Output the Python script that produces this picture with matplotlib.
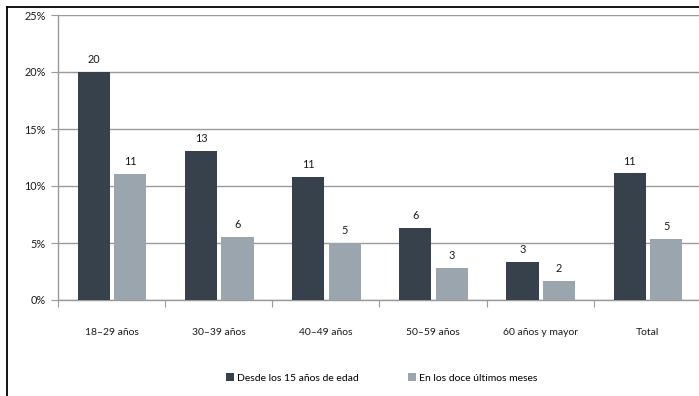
import numpy as np
import matplotlib.pyplot as plt
from matplotlib.patches import Patch
from matplotlib.lines import Line2D

# Datos por grupo de edad (% de mujeres)
categorias = ["18–29 años", "30–39 años", "40–49 años", "50–59 años", "60 años y mayor", "Total"]
desde_15 = [20.0, 13.1, 10.8, 6.3, 3.3, 11.1]
ultimos_12 = [11.05, 5.5, 5.0, 2.8, 1.65, 5.35]
serie_nombres = ["Desde los 15 años de edad", "En los doce últimos meses"]
y_ticks = [0, 5, 10, 15, 20, 25]

color_oscuro = "#36414b"
color_claro = "#9ba5ae"
color_rejilla = "#9a9a9a"
color_texto = "#1a1a1a"

plt.rcParams['font.family'] = ['Lato', 'DejaVu Sans']

fig = plt.figure(figsize=(6.99, 3.96), dpi=100)
ax = fig.add_axes([58 / 699, 96 / 396, 643 / 699, 285 / 396])

x = np.arange(len(categorias))
ancho = 0.3
b1 = ax.bar(x - 0.165, desde_15, ancho, color=color_oscuro, zorder=3)
b2 = ax.bar(x + 0.175, ultimos_12, ancho, color=color_claro, zorder=3)

for barras, vals in ((b1, desde_15), (b2, ultimos_12)):
    for b, v in zip(barras, vals):
        ax.annotate(f"{round(v):d}", (b.get_x() + b.get_width() / 2, v),
                    xytext=(0, 5), textcoords="offset points",
                    ha="center", va="bottom", fontsize=7.8, color=color_texto)

ax.set_xlim(-0.5, len(categorias) - 0.5)
ax.set_ylim(0, 25)
ax.set_yticks(y_ticks)
ax.set_yticklabels([f"{t}%" for t in y_ticks], fontsize=7.8, color=color_texto)
ax.yaxis.grid(True, color=color_rejilla, linewidth=1, zorder=0)
ax.tick_params(axis="y", length=5, color=color_rejilla, pad=4)

# marcas de separación entre categorías en el eje x
ax.set_xticks(np.arange(len(categorias) + 1) - 0.5)
ax.set_xticklabels([])
ax.set_xticks(x, minor=True)
ax.set_xticklabels(categorias, minor=True, fontsize=7.5, color=color_texto)
ax.tick_params(axis="x", which="major", length=5, color=color_rejilla)
ax.tick_params(axis="x", which="minor", length=0, pad=20)

for lado in ("top", "right"):
    ax.spines[lado].set_visible(False)
for lado in ("left", "bottom"):
    ax.spines[lado].set_color(color_rejilla)
    ax.spines[lado].set_linewidth(1)

handles = [Patch(facecolor=color_oscuro), Patch(facecolor=color_claro)]
fig.legend(handles, serie_nombres, loc="center", bbox_to_anchor=(0.546, 0.045),
           ncol=2, frameon=False, fontsize=7.5, handlelength=0.8, handleheight=0.8,
           handletextpad=0.3, columnspacing=4.65)

# marco exterior
fig.add_artist(Line2D([7 / 699, 7 / 699], [0, 1 - 7 / 396], color="black", linewidth=1.3))
fig.add_artist(Line2D([7 / 699, 1], [1 - 7 / 396, 1 - 7 / 396], color="black", linewidth=1.3))

fig.savefig("out.png", dpi=100)
